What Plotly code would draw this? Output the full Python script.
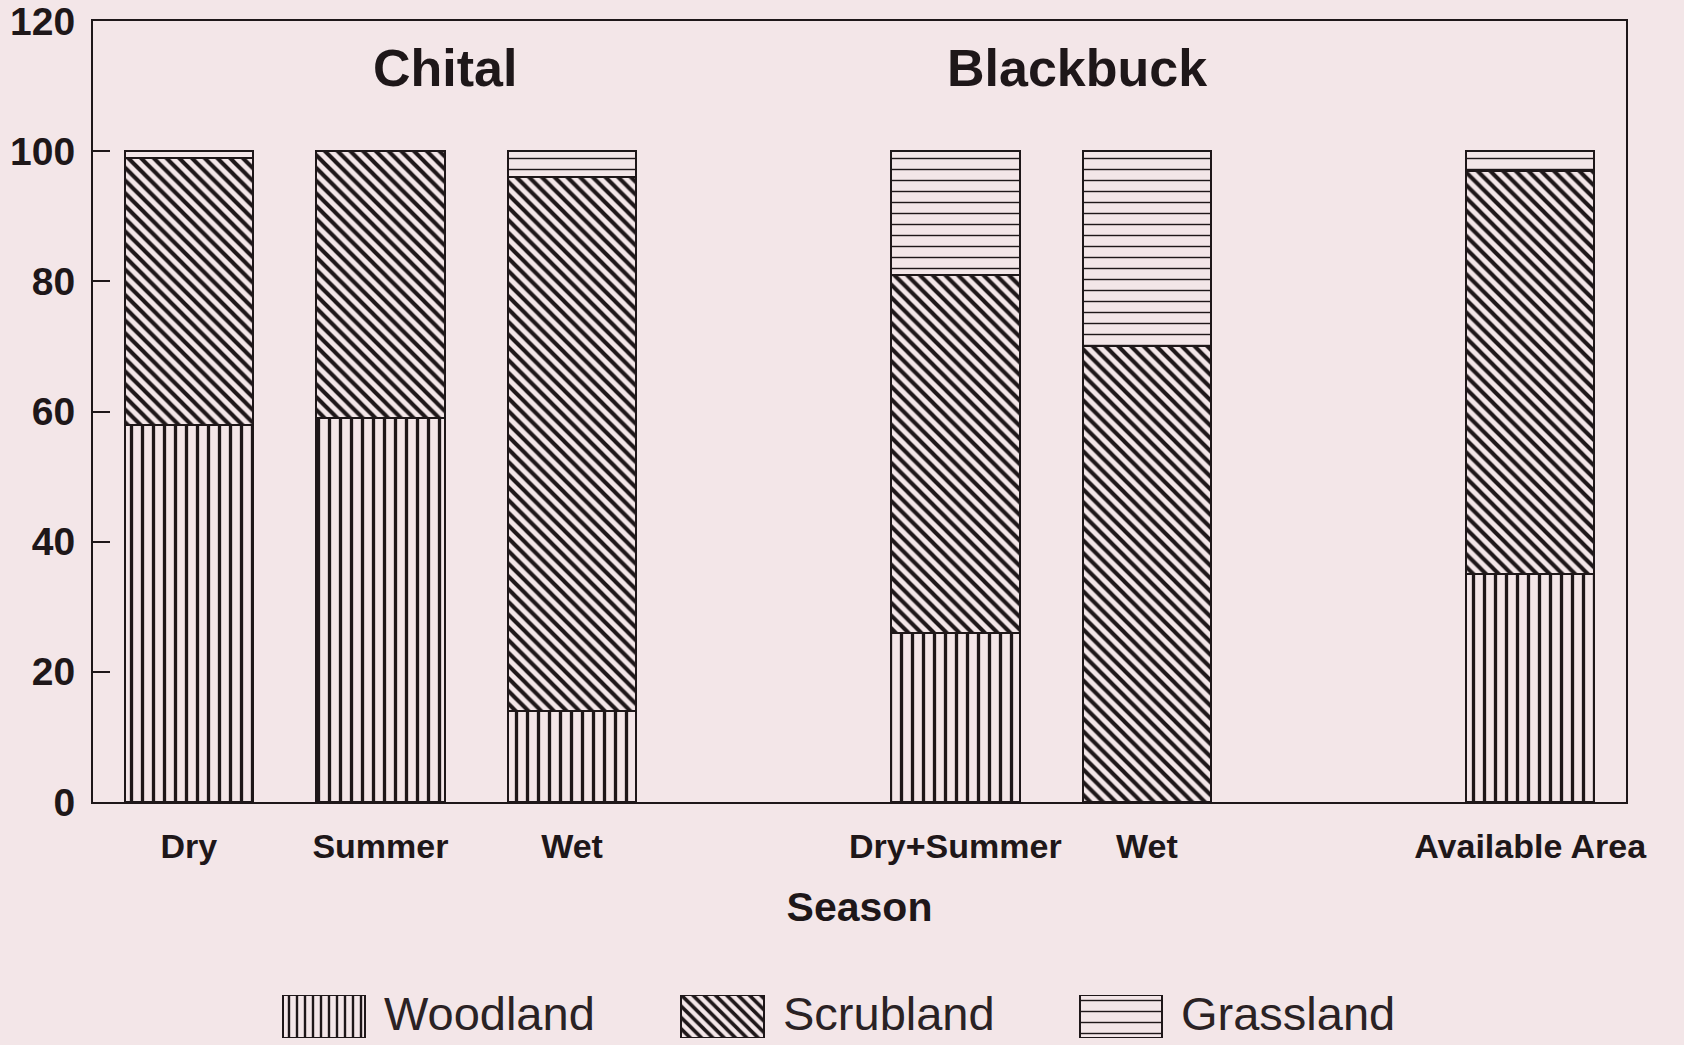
import plotly.graph_objects as go

# ---------------- data ----------------
categories = ["Dry", "Summer", "Wet", "Dry+Summer", "Wet", "Available Area"]
series_names = ["Woodland", "Scrubland", "Grassland"]
woodland = [58, 59, 14, 26, 0, 35]
scrubland = [41, 41, 82, 55, 70, 62]
grassland = [1, 0, 4, 19, 30, 3]
groups = ["Chital", "Blackbuck"]
y_ticks = [0, 20, 40, 60, 80, 100, 120]
x_title = "Season"

# ---------------- layout constants ----------------
slots = [0, 1, 2, 4, 5, 7]          # bar slots on the x axis
separators = [3, 6]                 # small group-separator ticks
group_x = [1.335, 4.636]
group_y = 112.8
BG = "#f3e6e8"
INK = "#1e1719"
FONT = "Liberation Sans, Arial, Helvetica, sans-serif"
patterns = {
    "Woodland": dict(shape="|", size=11, solidity=0.3),
    "Scrubland": dict(shape="\\", size=9, solidity=0.45),
    "Grassland": dict(shape="-", size=11, solidity=0.13),
}
values = {"Woodland": woodland, "Scrubland": scrubland, "Grassland": grassland}

fig = go.Figure()
for name in series_names:
    p = patterns[name]
    fig.add_trace(go.Bar(
        x=slots, y=values[name], name=name, width=0.67,
        marker=dict(color=BG, line=dict(color=INK, width=2),
                    pattern=dict(shape=p["shape"], size=p["size"], solidity=p["solidity"],
                                 fgcolor=INK, bgcolor=BG, fillmode="replace")),
        showlegend=False, hoverinfo="skip",
    ))

# custom large legend swatches drawn on their own small axes
for i, name in enumerate(series_names):
    p = patterns[name]
    fig.add_trace(go.Bar(
        x=[i], y=[1], xaxis="x3", yaxis="y3", width=0.208,
        marker=dict(color=BG, line=dict(color=INK, width=2),
                    pattern=dict(shape=p["shape"], size=8 if name != "Grassland" else 11,
                                 solidity=p["solidity"], fgcolor=INK, bgcolor=BG,
                                 fillmode="replace")),
        showlegend=False, hoverinfo="skip",
    ))

annotations = []
for g, gx in zip(groups, group_x):
    annotations.append(dict(x=gx, y=group_y, xref="x", yref="y", text=g, showarrow=False,
                            font=dict(family=FONT, size=52, color=INK, weight="bold"),
                            xanchor="center", yanchor="middle"))
for i, name in enumerate(series_names):
    annotations.append(dict(x=i, y=0.5, xref="x3", yref="y3", text=name, showarrow=False,
                            xanchor="left", yanchor="middle", xshift=58, yshift=3,
                            font=dict(family=FONT, size=47, color="#2a2224")))

W, H = 1684, 1045
ml, mr, mt, mb = 93, 58, 21, 0
plot_h = H - mt - mb
y_bottom_px = 802
main_y0 = (H - mb - y_bottom_px) / plot_h
leg_y0 = (H - mb - 1038) / plot_h
leg_y1 = (H - mb - 995) / plot_h
plot_w = W - ml - mr
leg_a = -(324 - ml) / 398.5
leg_b = leg_a + plot_w / 398.5

fig.update_layout(
    width=W, height=H,
    margin=dict(l=ml, r=mr, t=mt, b=mb, pad=0, autoexpand=False),
    paper_bgcolor=BG, plot_bgcolor=BG,
    barmode="stack", bargap=0,
    font=dict(family=FONT, color=INK),
    annotations=annotations,
    xaxis=dict(
        range=[-0.5, 7.5], tickvals=slots, ticktext=categories,
        ticks="", showgrid=False, zeroline=False, automargin=False,
        showline=True, linecolor=INK, linewidth=2, mirror=True,
        tickfont=dict(family=FONT, size=34, color=INK, weight="bold"),
        ticklabelstandoff=13, ticklabeloverflow="allow",
        title=dict(text=x_title, standoff=29,
                   font=dict(family=FONT, size=41, color=INK, weight="bold")),
        anchor="y",
    ),
    xaxis2=dict(
        range=[-0.5, 7.5], overlaying="x", anchor="y", side="bottom", automargin=False,
        tickvals=separators, ticks="inside", ticklen=18, tickwidth=2, tickcolor=INK,
        showticklabels=False, showgrid=False, zeroline=False, showline=False,
    ),
    yaxis=dict(
        domain=[main_y0, 1], range=[0, 120], tickvals=y_ticks,
        ticks="inside", ticklen=17, tickwidth=2, tickcolor=INK,
        showgrid=False, zeroline=False, automargin=False,
        showline=True, linecolor=INK, linewidth=2, mirror=True,
        tickfont=dict(family=FONT, size=39, color=INK, weight="bold"),
        ticklabelstandoff=8, ticklabeloverflow="allow",
    ),
    xaxis3=dict(range=[leg_a, leg_b], anchor="y3", visible=False, fixedrange=True,
                automargin=False),
    yaxis3=dict(domain=[leg_y0, leg_y1], range=[0, 1], anchor="x3", visible=False,
                fixedrange=True, automargin=False),
)

fig.write_html("out.html", config={"displayModeBar": False},
               post_script="document.body.style.margin='0';document.body.style.background='%s';" % BG)
